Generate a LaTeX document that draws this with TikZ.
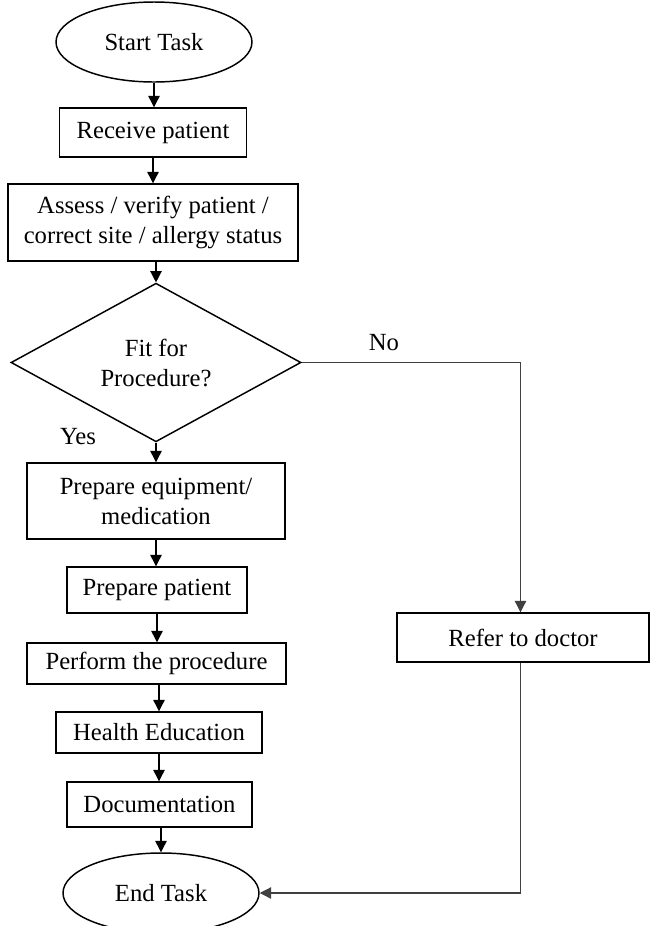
\documentclass[tikz,border=0pt]{standalone}
\usepackage{fontspec}
\setmainfont{Liberation Serif}
\usetikzlibrary{shapes.geometric,arrows.meta}

\begin{document}
\begin{tikzpicture}[x=0.75pt,y=-0.75pt,
  every node/.style={font=\fontsize{18.5}{22.5}\selectfont},
  box/.style={draw=black,line width=1.1pt,rectangle,inner sep=0pt,align=center},
  terminal/.style={draw=black,line width=1.1pt,ellipse,inner sep=0pt,
    minimum width=147pt,minimum height=60pt},
  decision/.style={draw=black,line width=1.1pt,diamond,inner sep=0pt,align=center,
    minimum width=217.5pt,minimum height=107.25pt},
  flow/.style={draw=black,line width=1pt,-{Triangle[length=8.5pt,width=8.5pt]}},
  sideflow/.style={draw=black!75,line width=0.9pt},
  tag/.style={inner sep=0pt}]

\useasboundingbox (0,0) rectangle (650,926);
\clip (0,0) rectangle (650,926);

% main column
\node[terminal] (start) at (154,42) {Start Task};
\node[box,minimum width=140.25pt,minimum height=36.75pt] (receive) at (153,132.5) {Receive patient};
\node[box,minimum width=217.5pt,minimum height=57.75pt] (assess) at (153,222.5)
  {Assess / verify patient /\\correct site / allergy status};
\node[decision] (fit) at (156,362.5) {Fit for\\Procedure?};
\node[box,minimum width=193.5pt,minimum height=57pt] (equip) at (156,501)
  {Prepare equipment/\\medication};
\node[box,minimum width=135pt,minimum height=34.5pt] (prep) at (157,590) {Prepare patient};
\node[box,minimum width=194.25pt,minimum height=30.75pt] (perform) at (156.5,663.5) {Perform the procedure};
\node[box,minimum width=154.5pt,minimum height=30.75pt] (health) at (159,732.5) {Health Education};
\node[box,minimum width=138.75pt,minimum height=33.75pt] (doc) at (159.5,804.5) {Documentation};
\node[terminal] (finish) at (161,893) {End Task};

% referral branch
\node[box,minimum width=189pt,minimum height=36.75pt] (refer) at (523,637.5) {Refer to doctor};

% branch labels
\node[tag] (yes) at (78,437) {Yes};
\node[tag] (no) at (384,343) {No};

% routing points of the referral branch
\coordinate (nocorner) at (520.5,362.5);
\coordinate (backcorner) at (520.5,893);

% main column connectors
\draw[flow] (start.south) -- (start.south |- receive.north);
\draw[flow] (receive.south) -- (receive.south |- assess.north);
\draw[flow] (assess.south -| fit.north) -- (fit.north);
\draw[flow] (fit.south) -- (fit.south |- equip.north);
\draw[flow] (equip.south) -- (equip.south |- prep.north);
\draw[flow] (prep.south) -- (prep.south |- perform.north);
\draw[flow] (perform.south -| health.north) -- (health.north);
\draw[flow] (health.south) -- (health.south |- doc.north);
\draw[flow] (doc.south -| finish.north) -- (finish.north);

% referral connectors
\draw[sideflow] (fit.east) -- (nocorner);
\draw[flow,draw=black!75,line width=0.9pt] (nocorner) -- (nocorner |- refer.north);
\draw[sideflow] (nocorner |- refer.south) -- (backcorner);
\draw[flow,draw=black!75,line width=0.9pt] (backcorner) -- (finish.east);
\end{tikzpicture}
\end{document}
